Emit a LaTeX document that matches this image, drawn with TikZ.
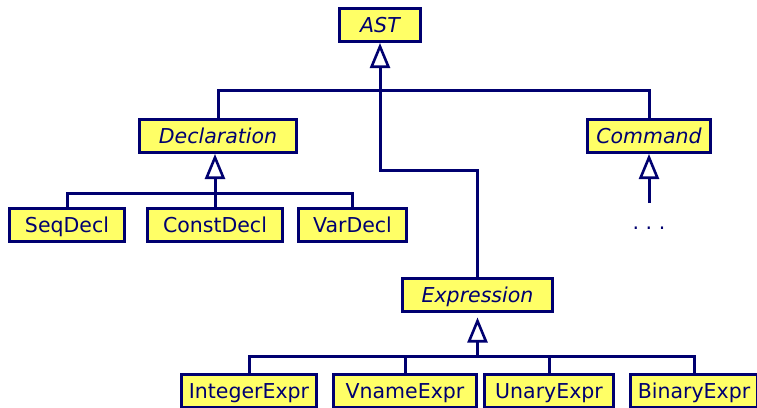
\documentclass[tikz,border=0pt]{standalone}
\usepackage{fontspec}
\setmainfont{DejaVu Sans}
\usetikzlibrary{arrows.meta}
\definecolor{navy}{HTML}{000070}
\definecolor{boxyellow}{HTML}{FFFF66}
\tikzset{
  cls/.style={draw=navy, fill=boxyellow, line width=3pt, text=navy,
    minimum height=33pt, inner sep=0pt, text height=15pt, text depth=0pt,
    font=\fontsize{20.5}{24}\selectfont, minimum width=#1},
  abs/.style={cls=#1, font=\fontsize{20.5}{24}\selectfont\itshape},
  conn/.style={draw=navy, line width=3pt},
  inh/.style={conn, -{Triangle[open, fill=white, length=25pt, width=20pt, line width=2.6pt]}},
}
\begin{document}
\begin{tikzpicture}[x=1pt, y=-1pt]
\useasboundingbox (0,0) rectangle (757,407);
\clip (0,0) rectangle (757,407);
\node[abs=81pt] (ast) at (380,25) {AST};
\node[abs=157pt] (decl) at (218,136) {Declaration};
\node[abs=123pt] (cmd) at (649,136) {Command};
\node[cls=115pt] (seq) at (67,225) {SeqDecl};
\node[cls=135pt] (const) at (215,225) {ConstDecl};
\node[cls=108pt] (var) at (352.5,225) {VarDecl};
\node[abs=150pt] (expr) at (477.5,295) {Expression};
\node[cls=135pt] (int) at (249,391) {IntegerExpr};
\node[cls=143pt] (vname) at (405,391) {VnameExpr};
\node[cls=129pt] (unary) at (549,391) {UnaryExpr};
\node[cls=127pt] (binary) at (694,391) {BinaryExpr};
\node[text=navy, font=\fontsize{20.5}{24}\selectfont, inner sep=0pt, anchor=base] (dots) at (649,229) {.\ .\ .};
% junctions
\coordinate (jtop) at (218,90);
\coordinate (jast) at (380,170);
\coordinate (jdecl) at (215,193);
\coordinate (jexpr) at (477.5,356);
\coordinate (cmdend) at (649,203);
% AST tree
\draw[conn] (decl.north) -- (jtop) -| (cmd.north);
\draw[inh] (expr.north) |- (jast) -- (ast.south);
% Declaration subtree
\draw[conn] (seq.north) |- (jdecl) -| (var.north);
\draw[inh] (const.north) -- (const.north |- decl.south);
% Command
\draw[inh] (cmdend) -- (cmd.south);
% Expression subtree
\draw[conn] (int.north) |- (jexpr) -| (binary.north);
\draw[conn] (unary.north) -- (unary.north |- jexpr);
\draw[conn] (vname.north) -- (vname.north |- jexpr);
\draw[inh, shorten >=4.5pt] (jexpr) -- (jexpr |- expr.south);
\end{tikzpicture}
\end{document}
